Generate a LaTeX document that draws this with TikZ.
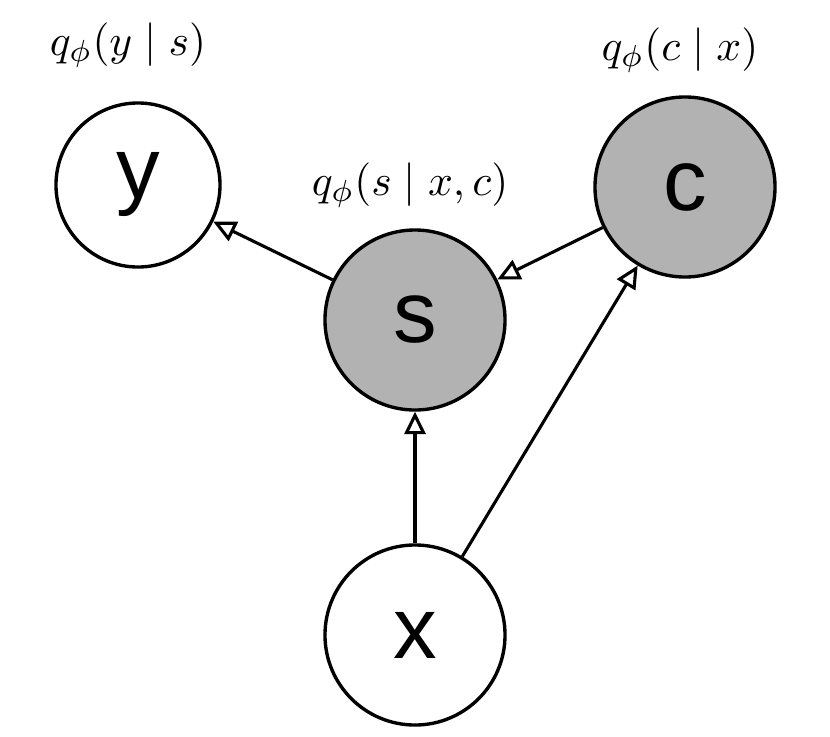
\documentclass[tikz,border=0pt]{standalone}
\usepackage{fontspec}
\setsansfont{Liberation Sans}
\usetikzlibrary{arrows.meta}
\tikzset{
  var/.style={circle,draw,line width=2.4pt,minimum size=4.5cm,inner sep=0pt,font=\sffamily\fontsize{62}{64}\selectfont},
  obs/.style={var,fill=gray!60},
  edge/.style={line width=2.2pt,-{Triangle[open,length=16pt,width=15pt,line width=2.2pt]}},
  lab/.style={scale=3.1,transform shape}
}
\begin{document}
\begin{tikzpicture}[x=0.025cm,y=-0.025cm]
  \useasboundingbox (0,0) rectangle (830,737);
  % variables
  \node[var,minimum size=4.1cm] (y) at (138,185) {y};
  \node[obs] (c) at (685,187) {c};
  \node[obs] (s) at (415,320) {s};
  \node[var] (x) at (415,635) {x};
  % labels
  \node[lab] (ly) at (128,45) {$q_\phi(y\mid s)$};
  \node[lab] (lc) at (680,50) {$q_\phi(c\mid x)$};
  \node[lab] (ls) at (410,185) {$q_\phi(s\mid x,c)$};
  % edges
  \draw[edge] (s) -- (y);
  \draw[edge] (c) -- (s);
  \draw[edge] (x) -- (s);
  \draw[edge] (x) -- (c);
\end{tikzpicture}
\end{document}
